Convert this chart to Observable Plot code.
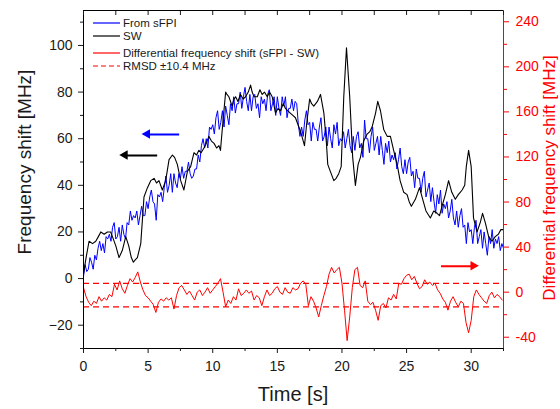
<!DOCTYPE html>
<html><head><meta charset="utf-8">
<script src="https://cdn.jsdelivr.net/npm/d3@7"></script>
<script src="https://cdn.jsdelivr.net/npm/@observablehq/plot@0.6"></script>
<style>html,body{margin:0;padding:0;background:#fff}#chart svg{display:block}</style>
</head><body><div id="chart"></div><script>
// ---- data ----
const dtBlue = 0.125;
const sfpi = [
 1,6,3,4,9,7,4,10,
 8,13,16,12,15,11,18,17,
 19,16,22,24,17,18,22,16,
 23,19,17,24,23,29,25,27,
 26,29,23,27,31,27,27,33,
 30,35,38,33,32,25,36,35,
 37,33,39,44,37,40,45,37,
 45,41,39,45,43,48,43,46,
 46,50,45,43,44,47,47,53,
 50,57,60,56,60,56,65,64,
 66,62,69,72,64,67,72,65,
 74,70,66,75,72,78,71,75,
 75,80,73,78,82,76,72,79,
 72,78,79,73,75,69,78,75,
 77,72,79,81,72,75,78,70,
 78,73,70,78,74,78,69,73,
 73,77,72,76,75,66,61,65,
 61,68,72,66,67,59,67,64,
 64,59,65,69,59,61,65,57,
 65,60,56,66,62,67,57,60,
 59,63,56,60,64,57,54,61,
 55,61,63,56,58,52,68,60,
 60,54,61,65,55,58,61,53,
 61,55,49,58,54,59,50,53,
 51,54,47,51,56,48,45,51,
 45,50,52,44,46,39,47,43,
 43,37,43,46,35,38,41,33,
 39,33,28,36,32,38,28,32,
 30,33,26,29,34,26,23,29,
 22,27,30,22,23,15,24,20,
 21,15,22,25,15,18,21,13,
 20,15,10,18,15,21,13,17,
 15,18,12,15,13];

const swTime = [0,0.2,0.43,0.7,0.95,1.15,1.34,1.6,1.85,2.1,2.24,2.5,2.75,3.0,3.27,3.5,3.7,3.86,4.0,4.17,4.43,4.68,4.95,5.2,5.46,5.65,5.84,6.1,6.36,6.62,6.88,7.05,7.26,7.52,7.77,8.04,8.29,8.55,8.75,8.93,9.1,9.32,9.5,9.7,9.9,10.1,10.3,10.48,10.6,10.8,11.0,11.1,11.25,11.5,11.65,11.77,11.95,12.15,12.35,12.54,12.75,12.93,13.05,13.2,13.45,13.65,13.83,14.0,14.22,14.4,14.6,14.86,15.05,15.25,15.45,15.63,15.8,16.0,16.2,16.4,16.6,16.8,17.1,17.3,17.5,17.65,17.82,18.1,18.34,18.6,18.8,18.9,19.1,19.37,19.55,19.75,19.94,20.14,20.35,20.6,20.83,21.04,21.25,21.43,21.68,21.95,22.15,22.33,22.6,22.77,22.98,23.23,23.5,23.75,24.0,24.27,24.5,24.78,25.04,25.2,25.37,25.68,26.0,26.25,26.5,26.84,27.1,27.36,27.55,27.74,28.0,28.25,28.5,28.77,29.0,29.15,29.3,29.5,29.62,29.8,30.0,30.18,30.45,30.7,30.88,31.09,31.35,31.6,31.86,32.1,32.3,32.5];
const swValue = [2,9,16,15,16,18,20,19,20,20,18,14,9,12,18,14,9,7,8,9,15,35,39,42,43,41,42,38,42,51,53,52,49,42,38,46,48,54,53,55,54,56,58,61,59,58,56,57,55,68,80,79,78,74,77,78,76,79,77,78,80,83,80,78,78,81,79,80,78,80,78,71,73,72,75,73,72,71,70,69,66,63,57,68,77,75,74,76,79,71,58,49,46,42,43,45,48,78,99,78,52,40,49,52,59,62,63,65,71,76,72,64,61,61,55,49,42,37,36,33,31,34,39,34,29,26,29,28,27,31,36,42,37,34,36,37,38,40,48,55,48,26,20,24,28,24,18,16,18,19,21,21];

const dtRed = 0.2;
const diff = [4,-4,-9,-12,-8,-10,-4,-8,-5,-7,-2,-4,7,2,10,3,-1,6,12,9,13,18,9,2,-3,-5,-8,-11,-18,-9,-6,-8,-5,-7,-5,-15,-3,4,6,2,-2,1,-3,-7,0,2,-3,0,4,-1,2,5,8,12,0,-13,-7,-10,-4,-7,3,-3,-1,2,-1,1,-7,-3,-5,-12,-4,2,-3,-1,3,5,0,-2,4,0,-1,4,2,3,8,10,7,-12,-4,-8,-14,-22,-12,-3,5,16,22,17,20,22,8,-16,-43,-22,4,20,22,6,4,10,-8,-11,-9,-16,-25,-12,-10,-14,-5,-7,-2,-6,8,7,12,15,16,11,14,8,3,5,11,7,9,6,8,2,-1,-6,-9,-16,-8,-4,-9,-13,-8,-10,-27,-36,-25,-4,2,-2,-5,-8,-10,-3,0,-5,-2,-4,-7];

const rmsdLevels = [7.8, -13.0];   // mean ± 10.4 MHz (right axis)

const xMajor = [0,5,10,15,20,25,30];
const xMinor = [2.5,7.5,12.5,17.5,22.5,27.5,32.5];
const yMajor = [-20,0,20,40,60,80,100];
const yMinor = [-30,-10,10,30,50,70,90,110];
const rMajor = [-40,0,40,80,120,160,200,240];
const rMinor = [-20,20,60,100,140,180,220];

const legendLabels = ["From sFPI","SW","Differential frequency shift (sFPI - SW)","RMSD \u00b110.4 MHz"];
const legendColors = ["#0000ff","#000000","#ff0000","#ff0000"];

// annotation arrows: tail, tip (time), level, axis
const arrowTail = [7.44, 5.74, 27.7];
const arrowTip  = [4.97, 3.24, 30.2];
const arrowLevel = [61.8, 52.8, 23];
const arrowAxis = ["left","left","right"];
const arrowColor = ["#0000ff","#000000","#ff0000"];

// ---- scales ----
const xMax = 32.5;
const yDom = [-30, 115];
const rDom = [-50, 250];
const toLeft = r => yDom[0] + (r - rDom[0]) * (yDom[1]-yDom[0]) / (rDom[1]-rDom[0]);
const toRight = y => rDom[0] + (y - yDom[0]) * (rDom[1]-rDom[0]) / (yDom[1]-yDom[0]);

const blueData = sfpi.map((v,i)=>({t:Math.min(i*dtBlue, xMax), v}));
const swData = swValue.map((v,i)=>({t:swTime[i], v}));
const redData = diff.map((v,i)=>({t:i*dtRed, v:toLeft(v)}));
const arrows = arrowTail.map((t,i)=>({
  x1:t, x2:arrowTip[i],
  y: arrowAxis[i]==="right" ? toLeft(arrowLevel[i]) : arrowLevel[i],
  c: arrowColor[i],
  rot: arrowTip[i] < t ? -90 : 90,
  dx: arrowTip[i] < t ? 4 : -4
}));

const font = "Liberation Sans, Arial, Helvetica, sans-serif";
const ink = "#1a1a1a";

const chart = Plot.plot({
  width: 560, height: 409,
  marginLeft: 83, marginRight: 57, marginTop: 10, marginBottom: 61,
  x: {domain: [0, xMax]},
  y: {domain: yDom},
  style: {fontFamily: font, fontSize: "14px", color: ink, background: "#fff", overflow: "visible"},
  marks: [
    Plot.ruleY(rmsdLevels.map(toLeft), {stroke: "#ff0000", strokeWidth: 1.2, strokeDasharray: "6,4"}),
    Plot.line(blueData, {x: "t", y: "v", stroke: "#0000ff", strokeWidth: 1}),
    Plot.line(swData, {x: "t", y: "v", stroke: "#000000", strokeWidth: 1.1}),
    Plot.line(redData, {x: "t", y: "v", stroke: "#ff0000", strokeWidth: 1}),
    Plot.ruleY(arrows, {x1: "x1", x2: "x2", y: "y", stroke: "c", strokeWidth: 2}),
    Plot.dot(arrows, {x: "x2", y: "y", symbol: "triangle", rotate: "rot", fill: "c", stroke: null, r: 3.6, dx: "dx"}),
    Plot.frame({stroke: "#000"}),
    Plot.ruleX([xMax], {stroke: "#ff0000"}),
    Plot.axisX({ticks: xMajor, tickSize: 5, tickPadding: 8, label: null, fontSize: 14, color: ink}),
    Plot.axisX({ticks: xMinor, tickSize: 3, tickFormat: () => "", label: null, color: ink}),
    Plot.axisX({anchor: "top", ticks: xMajor.concat(xMinor), tickSize: -4, tickFormat: () => "", label: null, color: ink}),
    Plot.axisY({ticks: yMajor, tickSize: 5, tickPadding: 6, label: null, fontSize: 14, color: ink}),
    Plot.axisY({ticks: yMinor, tickSize: 3, tickFormat: () => "", label: null, color: ink}),
    Plot.axisY({anchor: "right", ticks: rMajor.map(toLeft), tickFormat: d => String(Math.round(toRight(d))), tickSize: 5, tickPadding: 7, label: null, fontSize: 14, color: "#ff0000"}),
    Plot.axisY({anchor: "right", ticks: rMinor.map(toLeft), tickSize: 3, tickFormat: () => "", label: null, color: "#ff0000"})
  ]
});
document.getElementById("chart").appendChild(chart);

// ---- titles and legend ----
const svg = d3.select(chart);
svg.append("text").attr("x", 293).attr("y", 401).attr("text-anchor", "middle")
  .attr("font-family", font).attr("font-size", 20).attr("fill", ink).text("Time [s]");
svg.append("text").attr("transform", "translate(31,162) rotate(-90)").attr("text-anchor", "middle")
  .attr("font-family", font).attr("font-size", 19).attr("fill", ink).text("Frequency shift [MHz]");
svg.append("text").attr("transform", "translate(555,178) rotate(-90)").attr("text-anchor", "middle")
  .attr("font-family", font).attr("font-size", 17).attr("fill", "#ff0000").text("Differential frequency shift [MHz]");

const legY = [23, 36, 53, 66];
const leg = svg.append("g").attr("font-family", font).attr("font-size", 11.5).attr("fill", ink).attr("text-anchor", "start");
legendLabels.forEach((lab, i) => {
  leg.append("line").attr("x1", 93).attr("x2", 120).attr("y1", legY[i]).attr("y2", legY[i])
    .attr("stroke", legendColors[i]).attr("stroke-width", 1.2)
    .attr("stroke-dasharray", i === 3 ? "5,3" : null);
  leg.append("text").attr("x", 123).attr("y", legY[i]).attr("dy", "0.35em").attr("text-anchor", "start").text(lab);
});
</script></body></html>
